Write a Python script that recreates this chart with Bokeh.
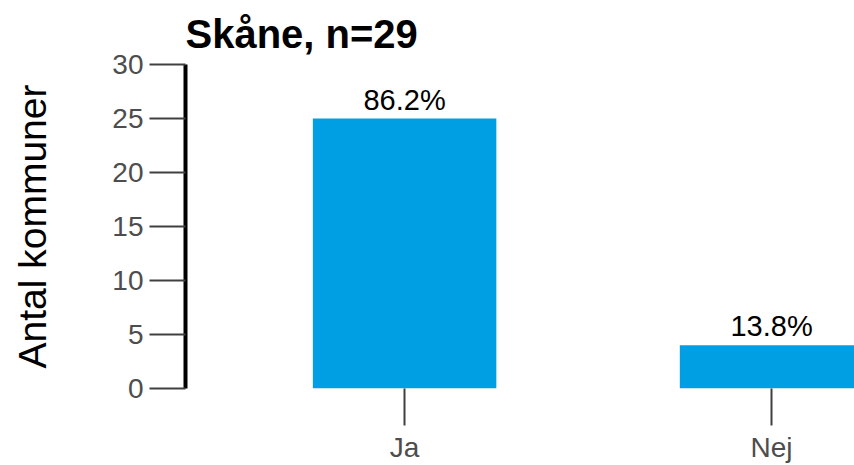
from bokeh.plotting import figure
from bokeh.models import Range1d, ColumnDataSource, FixedTicker, LabelSet
from bokeh.core.properties import value
from bokeh.embed import file_html
from bokeh.resources import INLINE

categories = ["Ja", "Nej"]
counts = [25, 4]
percent_labels = ["86.2%", "13.8%"]
y_ticks = [0, 5, 10, 15, 20, 25, 30]

xpos = [i + 1 for i in range(len(categories))]
src = ColumnDataSource(dict(x=xpos, top=counts, lab=percent_labels))

p = figure(width=854, height=465, output_backend="svg", toolbar_location=None,
           x_range=Range1d(0.403, 2.226), y_range=Range1d(0, 30),
           title="Skåne, n=29",
           min_border_left=185, min_border_right=0, min_border_top=64, min_border_bottom=0)
p.outline_line_color = None
p.grid.grid_line_color = None
p.background_fill_color = "white"
p.border_fill_color = "white"

p.title.text_font = "Liberation Sans"
p.title.text_font_size = "40px"
p.title.text_font_style = "bold"
p.title.text_color = "black"
p.title.align = "left"
p.title.offset = 0
p.title.standoff = 18

p.vbar(x="x", top="top", width=0.5, source=src, color="#009FE3", line_color=None)

labels = LabelSet(x="x", y="top", text="lab", source=src, text_align="center",
                  text_baseline="bottom", y_offset=3, text_font=value("Liberation Sans"),
                  text_font_size=value("29px"), text_color="black")
p.add_layout(labels)

ya = p.yaxis[0]
ya.ticker = FixedTicker(ticks=y_ticks)
ya.minor_tick_line_color = None
ya.axis_line_width = 4
ya.axis_line_color = "black"
ya.major_tick_in = 0
ya.major_tick_out = 36
ya.major_tick_line_color = "#404040"
ya.major_tick_line_width = 2
ya.major_label_text_font = "Liberation Sans"
ya.major_label_text_font_size = "28px"
ya.major_label_text_color = "#4d4d4d"
ya.major_label_standoff = 6
ya.axis_label = "Antal kommuner"
ya.axis_label_text_font = "Liberation Sans"
ya.axis_label_text_font_size = "39px"
ya.axis_label_text_font_style = "normal"
ya.axis_label_text_color = "black"
ya.axis_label_standoff = 55

xa = p.xaxis[0]
xa.ticker = FixedTicker(ticks=xpos)
xa.major_label_overrides = {x: c for x, c in zip(xpos, categories)}
xa.axis_line_color = None
xa.minor_tick_line_color = None
xa.major_tick_in = 0
xa.major_tick_out = 37
xa.major_tick_line_color = "#404040"
xa.major_tick_line_width = 2
xa.major_label_text_font = "Liberation Sans"
xa.major_label_text_font_size = "28px"
xa.major_label_text_color = "#4d4d4d"
xa.major_label_standoff = 6

open("out.html", "w").write(file_html(p, INLINE))
